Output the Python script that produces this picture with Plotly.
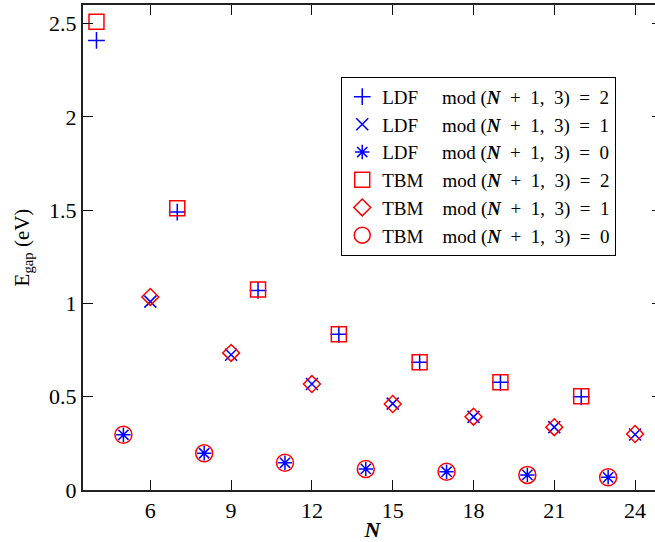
import plotly.graph_objects as go

# Band gap vs ribbon width N, grouped by mod(N+1, 3)
N_mod2 = [4, 7, 10, 13, 16, 19, 22]
N_mod1 = [6, 9, 12, 15, 18, 21, 24]
N_mod0 = [5, 8, 11, 14, 17, 20, 23]

ldf_mod2 = [2.41, 1.49, 1.07, 0.835, 0.685, 0.577, 0.50]
ldf_mod1 = [1.01, 0.725, 0.568, 0.463, 0.392, 0.337, 0.298]
ldf_mod0 = [0.296, 0.197, 0.146, 0.113, 0.098, 0.081, 0.068]

tbm_mod2 = [2.51, 1.51, 1.075, 0.835, 0.685, 0.578, 0.503]
tbm_mod1 = [1.035, 0.735, 0.568, 0.461, 0.393, 0.337, 0.300]
tbm_mod0 = [0.296, 0.197, 0.146, 0.113, 0.098, 0.081, 0.068]

x_ticks = [6, 9, 12, 15, 18, 21, 24]
y_ticks = [0, 0.5, 1, 1.5, 2, 2.5]
y_tick_text = ["0", "0.5", "1", "1.5", "2", "2.5"]

FONT = "Liberation Serif, Times New Roman, serif"
BLUE = "#0000ff"
RED = "#ff0000"
EN = "\u2002"
EM = "\u2003"


def label(method, k):
    # wide spacing in the formula, method names padded so "mod" lines up
    head = "LDF" + EM + "\u00a0" if method == "LDF" else "TBM" + EM
    return (head + "mod (<b><i>N</i></b>" + EN + "+" + EN + "1," + EN + "3)"
            + EN + "=" + EN + k)


fig = go.Figure()

ldf_specs = [
    (N_mod2, ldf_mod2, "cross-thin", 12, "2"),
    (N_mod1, ldf_mod1, "x-thin", 12, "1"),
    (N_mod0, ldf_mod0, "asterisk", 12, "0"),
]
for xs, ys, sym, size, k in ldf_specs:
    fig.add_trace(go.Scatter(
        x=xs, y=ys, mode="markers", name=label("LDF", k),
        marker=dict(symbol=sym, size=size, color=BLUE,
                    line=dict(color=BLUE, width=1.5)),
    ))

tbm_specs = [
    (N_mod2, tbm_mod2, "square-open", 15, "2"),
    (N_mod1, tbm_mod1, "diamond-open", 13, "1"),
    (N_mod0, tbm_mod0, "circle-open", 17, "0"),
]
for xs, ys, sym, size, k in tbm_specs:
    fig.add_trace(go.Scatter(
        x=xs, y=ys, mode="markers", name=label("TBM", k),
        marker=dict(symbol=sym, size=size, color=RED,
                    line=dict(color=RED, width=1.5)),
    ))

axis_common = dict(
    showgrid=False, zeroline=False,
    showline=True, linecolor="#222", linewidth=2,
    mirror="ticks", ticks="inside", ticklen=10, tickwidth=1.2, tickcolor="#111",
    tickfont=dict(family=FONT, size=22, color="black"),
)

fig.update_layout(
    width=664, height=542,
    margin=dict(l=83, r=0, t=5, b=52),
    paper_bgcolor="white", plot_bgcolor="white",
    font=dict(family=FONT, size=20, color="black"),
    showlegend=True,
    legend=dict(
        x=0.446, y=0.852, xanchor="left", yanchor="top",
        bgcolor="white", bordercolor="black", borderwidth=1,
        font=dict(family=FONT, size=19, color="black"),
        itemwidth=30, tracegroupgap=0,
    ),
    xaxis=dict(
        range=[3.5, 25], tickvals=x_ticks,
        title=dict(text="<b><i>N</i></b>", font=dict(family=FONT, size=22), standoff=2),
        **axis_common,
    ),
    yaxis=dict(
        range=[0, 2.6], tickvals=y_ticks, ticktext=y_tick_text,
        title=dict(text="E<sub>gap</sub> (eV)", font=dict(family=FONT, size=21), standoff=14),
        **axis_common,
    ),
)

fig.write_html(
    "out.html",
    post_script="document.documentElement.style.overflow='hidden';document.body.style.overflow='hidden';document.body.style.margin='0';",
)
